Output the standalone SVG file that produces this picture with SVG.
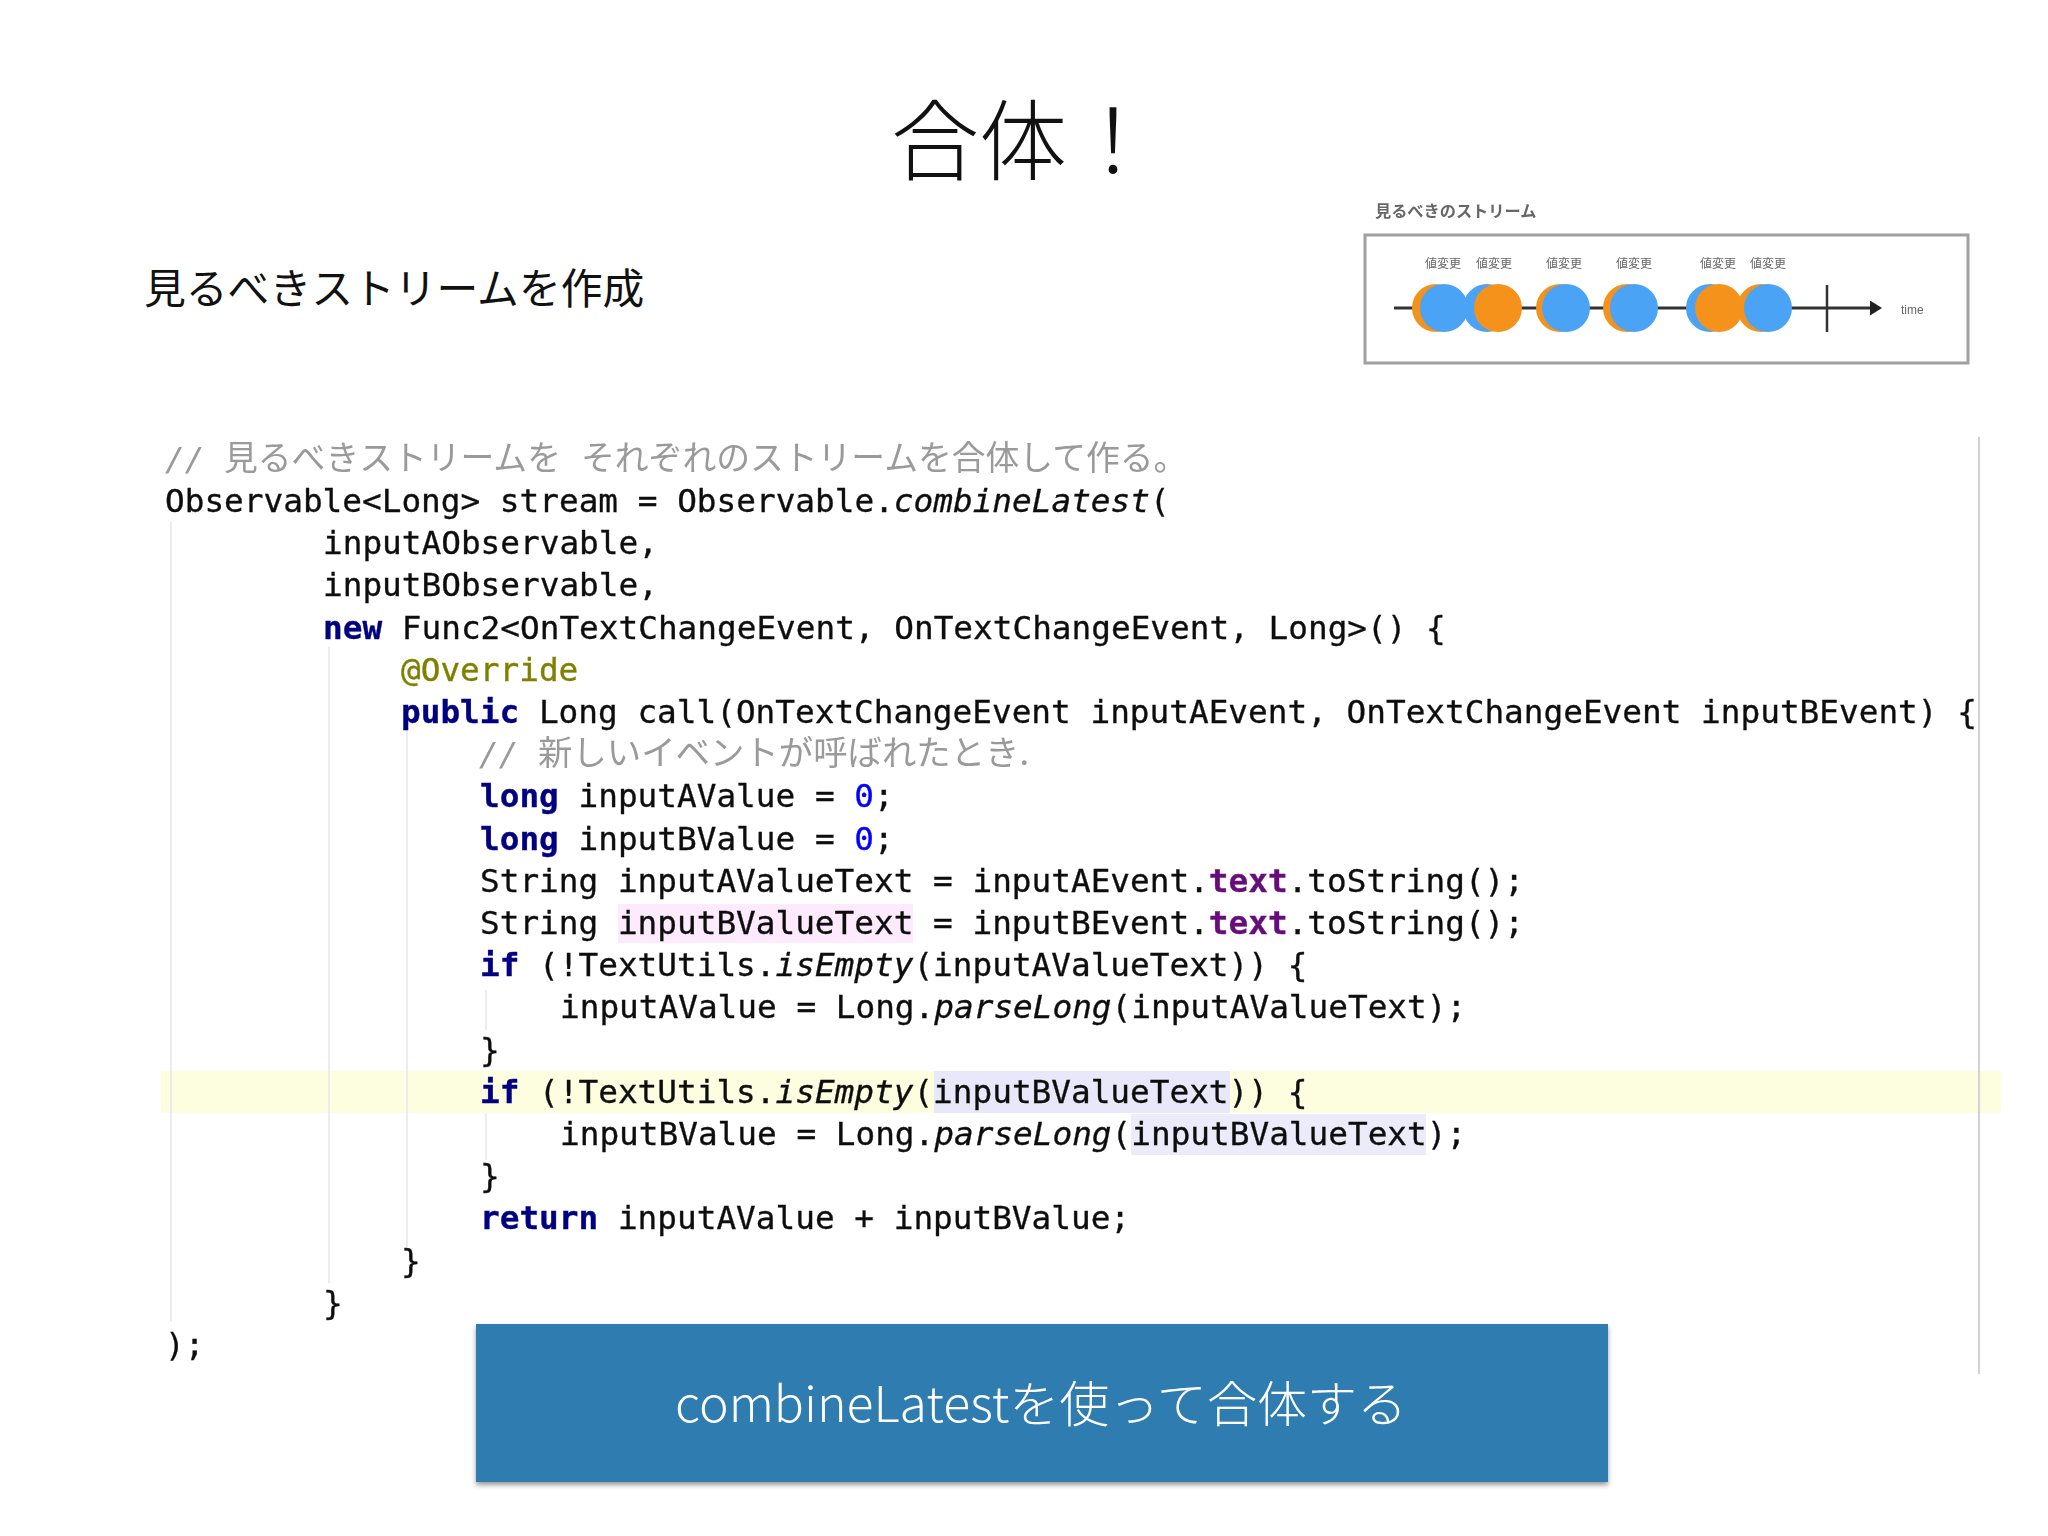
<svg xmlns="http://www.w3.org/2000/svg" width="2048" height="1536" viewBox="0 0 2048 1536">
<defs>
<filter id="soft" x="-5%" y="-5%" width="110%" height="110%"><feGaussianBlur stdDeviation="0.45"/></filter>
<filter id="softer" x="-5%" y="-10%" width="110%" height="120%"><feGaussianBlur stdDeviation="0.7"/></filter>
<filter id="shadow" x="-5%" y="-10%" width="110%" height="125%"><feDropShadow dx="0" dy="3" stdDeviation="2.5" flood-color="#000" flood-opacity="0.4"/></filter>
<marker id="arrow" markerWidth="5" markerHeight="5" refX="2" refY="2.5" orient="auto"><path d="M0,0L4,2.5L0,5Z" fill="#222"/></marker>
</defs>
<style>
.code{font-family:"DejaVu Sans Mono","Liberation Mono",monospace;font-size:32.72px;fill:#111;stroke:#111;stroke-width:.35px;white-space:pre}
.cm{font-family:"Noto Sans CJK JP",sans-serif;font-size:33.8px;fill:#9a9a9a}
.cmm{font-family:"DejaVu Sans Mono",monospace;font-size:32.7px;font-style:italic;fill:#9a9a9a}
.k{fill:#000080;stroke:#000080;font-weight:bold}
.n{fill:#0000ff;stroke:#0000ff}
.f{fill:#660e7a;stroke:#660e7a;font-weight:bold}
.i{font-style:italic}
.a{fill:#808000;stroke:#808000}
.g{stroke:#ececec;stroke-width:2;fill:none}
.lbl{font-family:"Noto Sans CJK JP",sans-serif;font-size:12px;fill:#666;text-anchor:middle}
.b{fill:#4ba3f5}
.o{fill:#f5921e}
</style>
<rect width="2048" height="1536" fill="#ffffff"/>

<g id="title"><text x="891" y="173" font-family="Noto Sans CJK JP, sans-serif" font-size="88" font-weight="300" fill="#111">合体</text><text x="1069" y="173" font-family="Noto Sans CJK JP, sans-serif" font-size="88" font-weight="300" fill="#111">！</text></g>
<g id="subtitle"><text x="144" y="304" font-family="Noto Sans CJK JP, sans-serif" font-size="41.8" fill="#111">見るべきストリームを作成</text></g>

<g id="inset" filter="url(#softer)">
<text x="1375" y="217" font-family="Noto Sans CJK JP, sans-serif" font-size="16.2" font-weight="bold" fill="#666">見るべきのストリーム</text>
<rect x="1365" y="235" width="603" height="128" fill="#fff" stroke="#a0a0a0" stroke-width="3"/>
<text class="lbl" x="1443" y="268">値変更</text><text class="lbl" x="1494" y="268">値変更</text><text class="lbl" x="1564" y="268">値変更</text><text class="lbl" x="1634" y="268">値変更</text><text class="lbl" x="1718" y="268">値変更</text><text class="lbl" x="1768" y="268">値変更</text>
<line x1="1394" y1="308" x2="1876" y2="308" stroke="#333" stroke-width="3" marker-end="url(#arrow)"/>
<line x1="1827" y1="285" x2="1827" y2="332" stroke="#333" stroke-width="2.5"/>
<circle class="o" cx="1436" cy="308" r="24"/><circle class="b" cx="1444" cy="308" r="24"/>
<circle class="b" cx="1487" cy="308" r="24"/><circle class="o" cx="1498" cy="308" r="24"/>
<circle class="o" cx="1560" cy="308" r="24"/><circle class="b" cx="1566" cy="308" r="24"/>
<circle class="o" cx="1627" cy="308" r="24"/><circle class="b" cx="1634" cy="308" r="24"/>
<circle class="b" cx="1710" cy="308" r="24"/><circle class="o" cx="1719" cy="308" r="24"/>
<circle class="o" cx="1761" cy="308" r="24"/><circle class="b" cx="1768" cy="308" r="24"/>
<text x="1901" y="314" font-family="Liberation Sans, sans-serif" font-size="12" fill="#666">time</text>
</g>

<g id="code-background">
<rect x="161" y="1071" width="1840" height="42" fill="#fdfde0"/>
<rect x="618" y="904" width="295" height="39" fill="#fdeafd"/>
<rect x="934" y="1071" width="296" height="42" fill="#e8e8fa"/>
<rect x="1131" y="1114" width="295" height="41" fill="#ecebfa"/>
<line class="g" x1="171" y1="522" x2="171" y2="1322"/>
<line class="g" x1="329" y1="647" x2="329" y2="1283"/>
<line class="g" x1="407" y1="730" x2="407" y2="1247"/>
<line class="g" x1="486" y1="990" x2="486" y2="1030"/>
<line class="g" x1="486" y1="1113" x2="486" y2="1160"/>
<line x1="1979" y1="437" x2="1979" y2="1374" stroke="#d2d2d2" stroke-width="2"/>
</g>

<g id="code" filter="url(#soft)">
<text class="cmm" x="165" y="470">//</text><text class="cm" x="224" y="470">見るべきストリームを</text><text class="cm" x="581" y="470">それぞれのストリームを合体して作る。</text>
<text class="code" x="165" y="512">Observable&lt;Long&gt; stream = Observable.<tspan class="i">combineLatest</tspan>(</text>
<text class="code" x="323" y="554">inputAObservable,</text>
<text class="code" x="323" y="596">inputBObservable,</text>
<text class="code" x="323" y="639"><tspan class="k">new</tspan> Func2&lt;OnTextChangeEvent, OnTextChangeEvent, Long&gt;() {</text>
<text class="code a" x="401" y="681">@Override</text>
<text class="code" x="401" y="723"><tspan class="k">public</tspan> Long call(OnTextChangeEvent inputAEvent, OnTextChangeEvent inputBEvent) {</text>
<text class="cmm" x="479" y="765">//</text><text class="cm" x="538" y="765" font-size="34.4" style="font-size:34.4px">新しいイベントが呼ばれたとき.</text>
<text class="code" x="480" y="807"><tspan class="k">long</tspan> inputAValue = <tspan class="n">0</tspan>;</text>
<text class="code" x="480" y="850"><tspan class="k">long</tspan> inputBValue = <tspan class="n">0</tspan>;</text>
<text class="code" x="480" y="892">String inputAValueText = inputAEvent.<tspan class="f">text</tspan>.toString();</text>
<text class="code" x="480" y="934">String inputBValueText = inputBEvent.<tspan class="f">text</tspan>.toString();</text>
<text class="code" x="480" y="976"><tspan class="k">if</tspan> (!TextUtils.<tspan class="i">isEmpty</tspan>(inputAValueText)) {</text>
<text class="code" x="560" y="1018">inputAValue = Long.<tspan class="i">parseLong</tspan>(inputAValueText);</text>
<text class="code" x="480" y="1061">}</text>
<text class="code" x="480" y="1103"><tspan class="k">if</tspan> (!TextUtils.<tspan class="i">isEmpty</tspan>(inputBValueText)) {</text>
<text class="code" x="560" y="1145">inputBValue = Long.<tspan class="i">parseLong</tspan>(inputBValueText);</text>
<text class="code" x="480" y="1187">}</text>
<text class="code" x="480" y="1229"><tspan class="k">return</tspan> inputAValue + inputBValue;</text>
<text class="code" x="401" y="1272">}</text>
<text class="code" x="323" y="1314">}</text>
<text class="code" x="165" y="1356">);</text>
</g>

<g id="callout">
<rect x="476" y="1324" width="1132" height="158" fill="#2e7cb0" filter="url(#shadow)"/>
<text x="675" y="1422" font-family="Noto Sans CJK JP, sans-serif" font-size="49" font-weight="300" fill="#ffffff" textLength="732" lengthAdjust="spacingAndGlyphs">combineLatestを使って合体する</text>
</g>
</svg>
